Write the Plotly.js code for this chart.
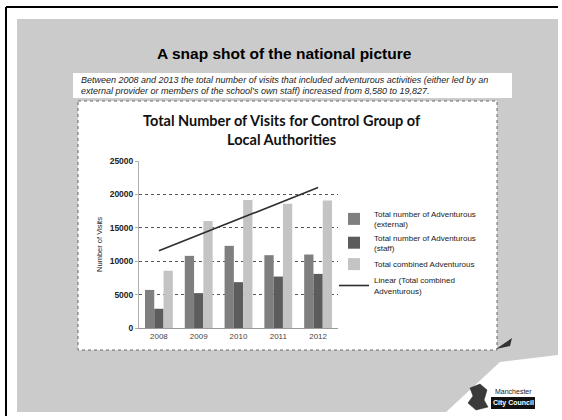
<!DOCTYPE html>
<html>
<head>
<meta charset="utf-8">
<script src="https://cdn.plot.ly/plotly-3.0.1.min.js"></script>
<style>
  html, body { margin: 0; padding: 0; background: #fff; }
  #chart { width: 562px; height: 420px; }
</style>
</head>
<body>
<div id="chart"></div>
<script>
// Visits per year for the control group of local authorities
const years = ['2008', '2009', '2010', '2011', '2012'];
const externalVisits = [5700, 10800, 12300, 10900, 11000];
const staffVisits = [2880, 5220, 6860, 7700, 8100];
const combinedVisits = [8580, 16020, 19160, 18600, 19100];

const seriesNames = [
  'Total number of Adventurous<br>(external)',
  'Total number of Adventurous<br>(staff)',
  'Total combined Adventurous',
  'Linear (Total combined<br>Adventurous)'
];

const introLines = [
  'Between 2008 and 2013 the total number of visits that included adventurous activities (either led by an',
  'external provider or members of the school\u2019s own staff) increased from 8,580 to 19,827.'
];

// Least-squares linear trend of the combined series
function linearTrend(values) {
  const n = values.length;
  const xs = values.map((_, i) => i);
  const mx = xs.reduce((a, b) => a + b, 0) / n;
  const my = values.reduce((a, b) => a + b, 0) / n;
  let sxy = 0, sxx = 0;
  xs.forEach((x, i) => { sxy += (x - mx) * (values[i] - my); sxx += (x - mx) * (x - mx); });
  const slope = sxy / sxx;
  return xs.map(x => my + slope * (x - mx));
}

// Plot area in page pixels
const L = 139, R = 338, T = 161, B = 328;
const W = R - L, H = B - T;
const px = p => (p - L) / W;
const py = p => (B - p) / H;
const pathOf = pts => 'M ' + pts.map(([x, y]) => px(x) + ',' + py(y)).join(' L ') + ' Z';

const traces = [
  { type: 'bar', x: years, y: externalVisits, name: seriesNames[0], legendgroup: 'a',
    marker: { color: '#7f7f7f' } },
  { type: 'bar', x: years, y: staffVisits, name: seriesNames[1], legendgroup: 'b',
    marker: { color: '#5c5c5c' } },
  { type: 'bar', x: years, y: combinedVisits, name: seriesNames[2], legendgroup: 'c',
    marker: { color: '#c4c4c4' } },
  { type: 'scatter', mode: 'lines', x: years, y: linearTrend(combinedVisits), name: seriesNames[3],
    legendgroup: 'd', line: { color: '#2e2e2e', width: 1.6 } }
];

const shapes = [
  // page frame
  { type: 'line', xref: 'paper', yref: 'paper', x0: px(6), x1: px(6), y0: py(7), y1: py(416),
    line: { color: '#000', width: 2 }, layer: 'below' },
  { type: 'line', xref: 'paper', yref: 'paper', x0: px(6), x1: px(558), y0: py(7), y1: py(7),
    line: { color: '#000', width: 2 }, layer: 'below' },
  // slide background
  { type: 'rect', xref: 'paper', yref: 'paper', x0: px(17), x1: px(558), y0: py(19), y1: py(412),
    fillcolor: '#cbcbcb', line: { width: 0 }, layer: 'below' },
  // faded lower-right corner
  { type: 'path', xref: 'paper', yref: 'paper',
    path: pathOf([[445, 413], [500, 362], [558, 355], [558, 413]]),
    fillcolor: '#ffffff', line: { width: 0 }, layer: 'below' },
  // text panel
  { type: 'rect', xref: 'paper', yref: 'paper', x0: px(73), x1: px(512), y0: py(73), y1: py(98),
    fillcolor: '#ffffff', line: { width: 0 }, layer: 'below' },
  // chart panel
  { type: 'rect', xref: 'paper', yref: 'paper', x0: px(78), x1: px(497), y0: py(101), y1: py(350),
    fillcolor: '#ffffff', line: { color: '#666', width: 1, dash: 'dot' }, layer: 'below' },
  // page curl
  { type: 'path', xref: 'paper', yref: 'paper',
    path: pathOf([[496, 349], [512, 338], [510, 346]]),
    fillcolor: '#333', line: { width: 0 }, layer: 'below' },
  // council crest
  { type: 'path', xref: 'paper', yref: 'paper',
    path: pathOf([[470, 388], [480, 384], [487, 390], [484, 400], [488, 407], [476, 410], [468, 403], [473, 396]]),
    fillcolor: '#3a3a3a', line: { color: '#222', width: 0.5 }, layer: 'above' },
  { type: 'rect', xref: 'paper', yref: 'paper', x0: px(491), x1: px(535), y0: py(397), y1: py(409),
    fillcolor: '#111', line: { width: 0 }, layer: 'above' }
];

const introFont = { family: 'Liberation Sans, Arial, sans-serif', size: 9, color: '#222' };

const annotations = [
  { xref: 'paper', yref: 'paper', x: px(284), y: py(53), xanchor: 'center', yanchor: 'middle',
    showarrow: false, text: 'A snap shot of the national picture',
    font: { family: 'Liberation Sans, Arial, sans-serif', size: 15.5, color: '#000', weight: 'bold' } },
  { xref: 'paper', yref: 'paper', x: px(79), y: py(80), xanchor: 'left', yanchor: 'middle',
    showarrow: false, text: '<i>' + introLines[0] + '</i>', font: introFont },
  { xref: 'paper', yref: 'paper', x: px(79), y: py(91), xanchor: 'left', yanchor: 'middle',
    showarrow: false, text: '<i>' + introLines[1] + '</i>', font: introFont },
  { xref: 'paper', yref: 'paper', x: px(282), y: py(130), xanchor: 'center', yanchor: 'middle',
    showarrow: false, text: 'Total Number of Visits for Control Group of<br>Local Authorities',
    font: { family: 'Lato, sans-serif', size: 14.5, color: '#111', weight: 'bold' } },
  { xref: 'paper', yref: 'paper', x: px(513), y: py(391), xanchor: 'center', yanchor: 'middle',
    showarrow: false, text: 'Manchester',
    font: { family: 'Liberation Sans, Arial, sans-serif', size: 7, color: '#222' } },
  { xref: 'paper', yref: 'paper', x: px(513), y: py(403), xanchor: 'center', yanchor: 'middle',
    showarrow: false, text: 'City Council',
    font: { family: 'Liberation Sans, Arial, sans-serif', size: 7, color: '#fff', weight: 'bold' } }
];

const layout = {
  width: 562, height: 420, autosize: false,
  margin: { l: L, r: 562 - R, t: T, b: 420 - B, pad: 0 },
  paper_bgcolor: '#ffffff',
  plot_bgcolor: 'rgba(0,0,0,0)',
  barmode: 'group', bargap: 0.3, bargroupgap: 0,
  font: { family: 'Liberation Sans, Arial, sans-serif', color: '#222' },
  xaxis: {
    type: 'category', showgrid: false, showline: true, linecolor: '#9a9a9a', linewidth: 1,
    ticks: '', tickfont: { size: 8, color: '#444' }, fixedrange: true
  },
  yaxis: {
    range: [0, 25000], dtick: 5000, tickformat: 'd',
    showgrid: true, gridcolor: '#555', griddash: 'dot', gridwidth: 1,
    showline: true, linecolor: '#b0b0b0', ticks: 'outside', ticklen: 3, tickcolor: '#b0b0b0',
    zeroline: false,
    tickfont: { size: 8.5, color: '#222', weight: 'bold' },
    title: { text: 'Number of Visits', font: { size: 7.5, color: '#222' }, standoff: 6 },
    fixedrange: true
  },
  showlegend: true,
  legend: {
    x: px(334), y: py(202), xanchor: 'left', yanchor: 'top',
    bgcolor: 'rgba(0,0,0,0)', traceorder: 'normal', tracegroupgap: 0,
    font: { size: 8, color: '#222' }, itemwidth: 30
  },
  shapes: shapes,
  annotations: annotations
};

Plotly.newPlot('chart', traces, layout, { staticPlot: true, displayModeBar: false });
</script>
</body>
</html>
